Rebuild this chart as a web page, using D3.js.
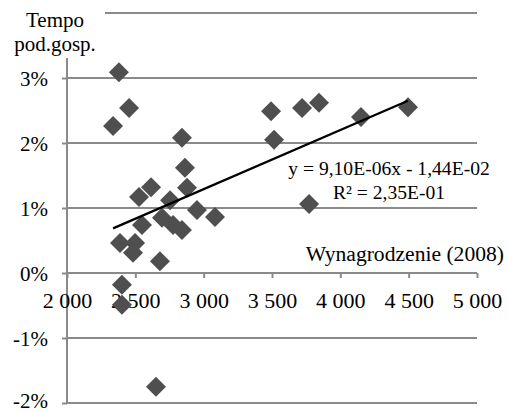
<!DOCTYPE html>
<html><head><meta charset="utf-8">
<script src="https://cdn.jsdelivr.net/npm/d3@7"></script>
<style>body{margin:0;background:#fff}svg{display:block}</style>
</head><body><svg id="c" width="508" height="413"></svg>
<script>
const wages = [2380,2454,2337,2841,2863,2878,2615,2527,2754,2951,3083,2695,2776,2841,2549,2388,2498,2483,2680,2402,2402,2651,3493,3720,3844,4151,4495,3515,3771];
const growth = [3.09,2.54,2.26,2.08,1.62,1.31,1.32,1.17,1.12,0.97,0.86,0.85,0.74,0.66,0.74,0.46,0.46,0.31,0.18,-0.18,-0.49,-1.75,2.49,2.54,2.62,2.40,2.55,2.05,1.06];
const xTicks = [2000,2500,3000,3500,4000,4500,5000];
const yTicks = [-2,-1,0,1,2,3,4];
const trendSlope = 9.10e-6, trendIntercept = -1.44e-2;
const eqLines = ["y = 9,10E-06x - 1,44E-02", "R² = 2,35E-01"];
const xTitle = "Wynagrodzenie (2008)";
const yTitle = ["Tempo", "pod.gosp."];

const FONT = "'Liberation Serif', 'Times New Roman', Times, serif";
const svg = d3.select("#c");
const x = d3.scaleLinear().domain([2000,5000]).range([67,477]);
const y = d3.scaleLinear().domain([-2,4]).range([403,13]);
const grid = "#8a8a8a";
const fmtX = d => d3.format(",")(d).replace(",", " ");
const styleText = (sel, size) => sel.style("font-family", FONT).style("font-size", size + "px").attr("fill", "#000");

// gridlines
svg.append("g").selectAll("line").data(yTicks).join("line")
  .attr("x1", x(2000)).attr("x2", x(5000)).attr("y1", d=>y(d)).attr("y2", d=>y(d))
  .attr("stroke", grid).attr("stroke-width", 2);

// y axis
const yAx = svg.append("g").attr("transform", `translate(${x(2000)},0)`)
  .call(d3.axisLeft(y).tickValues(yTicks.filter(d=>d<4)).tickSize(5).tickPadding(14).tickFormat(d=>d+"%"));
yAx.select(".domain").attr("stroke", grid).attr("stroke-width", 2).attr("d", `M0,${y(4)}V${y(-2)}`);
yAx.selectAll(".tick line").attr("stroke", grid).attr("stroke-width", 2);
yAx.selectAll("text").call(styleText, 21).attr("dy", d => d === -2 ? "0.2em" : "0.35em").attr("x", -19);

// x axis at 0
const xAx = svg.append("g").attr("transform", `translate(0,${y(0)})`)
  .call(d3.axisBottom(x).tickValues(xTicks).tickSize(5).tickPadding(14).tickFormat(fmtX));
xAx.select(".domain").attr("stroke", grid).attr("stroke-width", 2).attr("d", `M${x(2000)},0H${x(5000)}`);
xAx.selectAll(".tick line").attr("stroke", grid).attr("stroke-width", 2);
xAx.selectAll("text").call(styleText, 22).attr("dy","0.35em").attr("y", 27);

// points
const diamond = d3.symbol().type(d3.symbolSquare).size(200);
svg.append("g").selectAll("path").data(wages.map((w,i)=>[w,growth[i]])).join("path")
  .attr("d", diamond)
  .attr("transform", d=>`translate(${x(d[0])},${y(d[1])}) rotate(45)`)
  .attr("fill", "#4f4f4f");

// trendline
const xmin = d3.min(wages), xmax = d3.max(wages);
svg.append("line")
  .attr("x1", x(xmin)).attr("y1", y((trendSlope*xmin+trendIntercept)*100))
  .attr("x2", x(xmax)).attr("y2", y((trendSlope*xmax+trendIntercept)*100))
  .attr("stroke", "#000").attr("stroke-width", 2.2);

// equation
svg.append("g").selectAll("text").data(eqLines).join("text")
  .attr("x", 389).attr("y", (d,i)=>175+i*24).attr("text-anchor","middle").call(styleText, 19.6).text(d=>d);

// x title
svg.append("text").attr("x", 504).attr("y", 261).attr("text-anchor","end").call(styleText, 21.6).text(xTitle);

// y title with white background
svg.append("rect").attr("x", 5).attr("y", 0).attr("width", 100).attr("height", 58).attr("fill","#fff");
svg.append("g").selectAll("text").data(yTitle).join("text")
  .attr("x", 55).attr("y", (d,i)=>27+i*24).attr("text-anchor","middle").call(styleText, 21).text(d=>d);
</script></body></html>
